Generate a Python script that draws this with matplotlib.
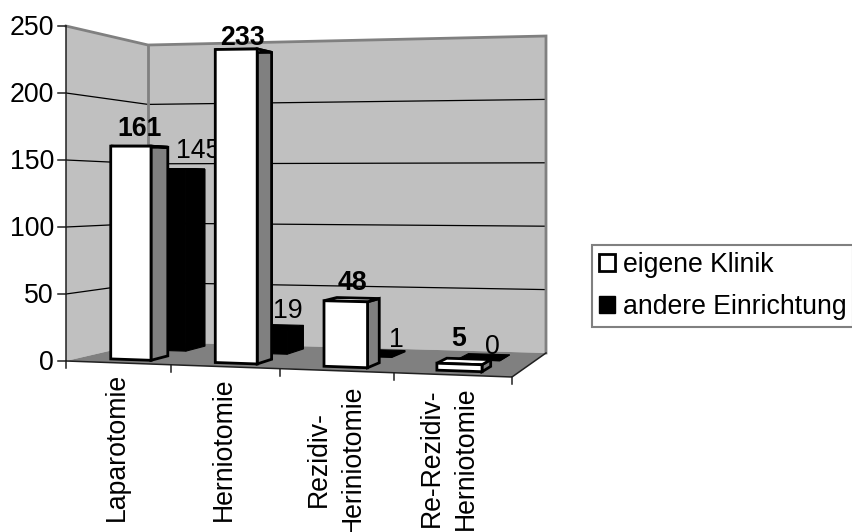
import numpy as np
import matplotlib
matplotlib.use("Agg")
import matplotlib.pyplot as plt
from matplotlib.patches import Polygon, Patch

plt.rcParams['font.family'] = ['Liberation Sans', 'DejaVu Sans']

categories = ["Laparotomie", "Herniotomie", "Rezidiv-\nHeriniotomie", "Re-Rezidiv-\nHerniotomie"]
eigene = [161, 233, 48, 5]
andere = [145, 19, 1, 0]
y_ticks = [0, 50, 100, 150, 200, 250]
legend_labels = ["eigene Klinik", "andere Einrichtung"]

FS = 19.2
WALL = "#c0c0c0"
FLOOR = "#808080"

# pixel corners of the 3d box floor, (u, d) = (0,0) (1,0) (1,1) (0,1)
floor_px = np.array([[66, 361], [512, 377], [546, 353], [148, 342]], float)
scales = np.array([335, 357, 317, 297]) / 250.0


def solve_h(pts):
    A, b = [], []
    for (u, v), (x, y) in zip([(0, 0), (1, 0), (1, 1), (0, 1)], pts):
        A.append([u, v, 1, 0, 0, 0, -u * x, -v * x])
        b.append(x)
        A.append([0, 0, 0, u, v, 1, -u * y, -v * y])
        b.append(y)
    return np.append(np.linalg.solve(np.array(A), np.array(b)), 1).reshape(3, 3)


H = solve_h(floor_px)


def project(u, d, v=0):
    # u runs over categories 0..4, d is depth 0..1, v the value
    s = u / 4.0
    s = s + 0.08 * s * (1 - s)  # excel's perspective is weaker than the corners suggest
    q = H @ np.array([s, d, 1.0])
    x, y = q[0] / q[2], q[1] / q[2]
    k = (1 - s) * (1 - d) / scales[0] + s * (1 - d) / scales[1] + s * d / scales[2] + (1 - s) * d / scales[3]
    return x, y - v / k


fig = plt.figure(figsize=(8.52, 5.32), dpi=100)
ax = fig.add_axes([0, 0, 1, 1])
ax.set_xlim(0, 852)
ax.set_ylim(532, 0)
ax.axis("off")


def poly(pts, fc, ec="none", lw=0, z=1):
    ax.add_patch(Polygon(pts, closed=True, facecolor=fc, edgecolor=ec, linewidth=lw, zorder=z, joinstyle="miter"))


top = y_ticks[-1]
n = len(categories)

# walls and floor
poly([project(0, 0), project(0, 0, top), project(0, 1, top), project(0, 1)], WALL, z=1)
poly([project(0, 1), project(0, 1, top), project(n, 1, top), project(n, 1)], WALL, z=1)
poly([project(0, 0), project(n, 0), project(n, 1), project(0, 1)], FLOOR, z=1.1)

# gridlines
for t in y_ticks[1:-1]:
    pts = [project(0, 0, t), project(0, 1, t), project(n, 1, t)]
    ax.plot(*zip(*pts), color="black", lw=0.9, zorder=1.2)

# wall edges
ax.plot(*zip(*[project(0, 0, top), project(0, 1, top), project(n, 1, top), project(n, 1)]),
        color=FLOOR, lw=2, zorder=1.3, solid_joinstyle="miter")
ax.plot(*zip(*[project(0, 1, top), project(0, 1)]), color=FLOOR, lw=2, zorder=1.3)

# axes
ax.plot(*zip(*[project(0, 0, top), project(0, 0), project(n, 0), project(n, 1)]),
        color="#202020", lw=1.1, zorder=1.4)
for t in y_ticks:
    x, y = project(0, 0, t)
    ax.plot([x - 8, x], [y, y], color="#202020", lw=1.1, zorder=1.4)
    ax.text(x - 12, y + 2, str(t), ha="right", va="center", fontsize=FS, color="black")
for i in range(n + 1):
    x, y = project(i, 0)
    ax.plot([x, x], [y, y + 7], color="#202020", lw=1.1, zorder=1.4)


def bar(i, val, d0, d1, front, side, ec, lw, z):
    u0, u1 = i + 0.305, i + 0.695
    poly([project(u1, d0), project(u1, d1), project(u1, d1, val), project(u1, d0, val)], side, ec, lw, z)
    poly([project(u0, d0, val), project(u1, d0, val), project(u1, d1, val), project(u0, d1, val)], front, ec, lw, z)
    poly([project(u0, d0), project(u1, d0), project(u1, d0, val), project(u0, d0, val)], front, ec, lw, z)
    return project((u0 + u1) / 2, (d0 + d1) / 2, val)


# label nudges, excel puts them a bit off the bar centre
andere_nudge = [(22, -5), (12, -3), (18, 0), (8, 3)]
eigene_nudge = [(0, -5), (-1, 0), (1, -4), (-5, -9)]

# back row first, its labels sit below the front row bars
for i, val in enumerate(andere):
    x, y = bar(i, val, 0.6, 0.87, "black", "black", "black", 0.8, 2)
    ax.text(x + andere_nudge[i][0], y + andere_nudge[i][1], str(val), ha="center", va="bottom",
            fontsize=FS, color="black", zorder=2.5)

for i, val in enumerate(eigene):
    x, y = bar(i, val, 0.15, 0.36, "white", FLOOR, "black", 2, 3)
    ax.text(x + eigene_nudge[i][0], y + eigene_nudge[i][1], str(val), ha="center", va="bottom",
            fontsize=FS, fontweight="bold", color="black", zorder=4)

# category labels, hand placed like the rotated excel ones
label_pos = [(117, 447), (224, 449), (336, 459), (449, 458)]
for (x, y), lab in zip(label_pos, categories):
    ax.text(x, y, lab, rotation=90, ha="center", va="center", multialignment="center",
            fontsize=FS, color="black", linespacing=1.4)

handles = [Patch(facecolor="white", edgecolor="black", linewidth=2), Patch(facecolor="black", edgecolor="black")]
leg = ax.legend(handles, legend_labels, loc="upper left", bbox_to_anchor=(592, 245),
                bbox_transform=ax.transData, borderaxespad=0, fontsize=FS, fancybox=False,
                edgecolor=FLOOR, framealpha=1, handlelength=0.62, handleheight=0.62,
                handletextpad=0.28, labelspacing=0.62, borderpad=0.25)
leg.get_frame().set_linewidth(1.5)
leg.set_zorder(5)

fig.savefig("out.png", dpi=100)
